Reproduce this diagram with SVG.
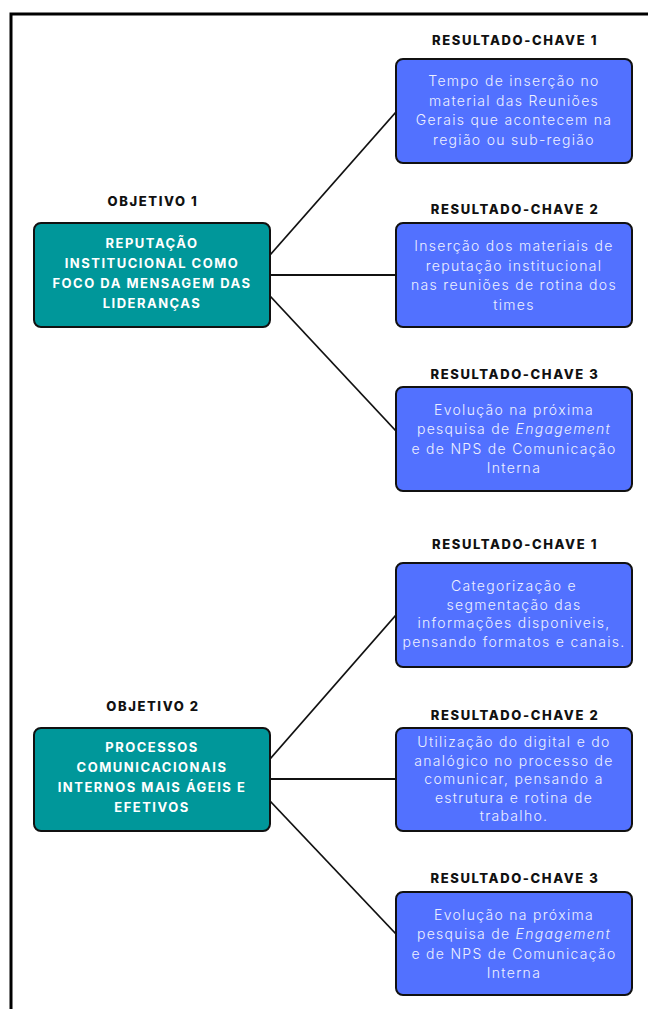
<svg xmlns="http://www.w3.org/2000/svg" width="648" height="1009" viewBox="0 0 648 1009">
<style>
.obj rect{fill:#00979A;stroke:#111;stroke-width:2}
.obj text{font-family:Inter,"Liberation Sans",sans-serif;font-weight:700;font-size:13px;letter-spacing:1.5px;fill:#fff;text-anchor:middle}
.kr rect{fill:#5271FF;stroke:#111;stroke-width:2}
.kr text{font-family:Inter,"Liberation Sans",sans-serif;font-weight:300;font-size:14px;letter-spacing:1.3px;fill:#EEF0FF;text-anchor:middle}
.obj text.lbl,.kr text.lbl{font-family:Inter,"Liberation Sans",sans-serif;font-weight:800;font-size:13px;letter-spacing:1.6px;fill:#111;text-anchor:middle}
.conn line{stroke:#111;stroke-width:1.8}
.frame{stroke:#000;stroke-width:3;fill:none}
</style>
<rect width="648" height="1009" fill="#fff"/>
<path class="frame" d="M11 1009 V14 H648"/>

<g id="connectors" class="conn">
<line x1="270" y1="255" x2="396" y2="112"/>
<line x1="270" y1="275" x2="396" y2="275"/>
<line x1="270" y1="296" x2="396" y2="431"/>
<line x1="270" y1="759" x2="396" y2="615"/>
<line x1="270" y1="779" x2="396" y2="779"/>
<line x1="270" y1="801" x2="396" y2="934"/>
</g>

<g id="objetivo1" class="obj">
<text class="lbl" x="153" y="206">OBJETIVO 1</text>
<rect x="34" y="223" width="236" height="104" rx="7"/>
<text x="152" y="248">REPUTAÇÃO</text>
<text x="152" y="268">INSTITUCIONAL COMO</text>
<text x="152" y="288">FOCO DA MENSAGEM DAS</text>
<text x="152" y="308">LIDERANÇAS</text>
</g>

<g id="kr1-1" class="kr">
<text class="lbl" x="515" y="45">RESULTADO-CHAVE 1</text>
<rect x="396" y="59" width="236" height="104" rx="7"/>
<text x="514" y="86">Tempo de inserção no</text>
<text x="514" y="105.5">material das Reuniões</text>
<text x="514" y="125">Gerais que acontecem na</text>
<text x="514" y="144.5">região ou sub-região</text>
</g>

<g id="kr1-2" class="kr">
<text class="lbl" x="515" y="214">RESULTADO-CHAVE 2</text>
<rect x="396" y="223" width="236" height="104" rx="7"/>
<text x="514" y="251">Inserção dos materiais de</text>
<text x="514" y="270.5">reputação institucional</text>
<text x="514" y="290">nas reuniões de rotina dos</text>
<text x="514" y="309.5">times</text>
</g>

<g id="kr1-3" class="kr">
<text class="lbl" x="515" y="379">RESULTADO-CHAVE 3</text>
<rect x="396" y="387" width="236" height="104" rx="7"/>
<text x="514" y="414.5">Evolução na próxima</text>
<text x="514" y="434">pesquisa de <tspan font-style="italic">Engagement</tspan></text>
<text x="514" y="453.5">e de NPS de Comunicação</text>
<text x="514" y="473">Interna</text>
</g>

<g id="objetivo2" class="obj">
<text class="lbl" x="153" y="711">OBJETIVO 2</text>
<rect x="34" y="728" width="236" height="103" rx="7"/>
<text x="152" y="752">PROCESSOS</text>
<text x="152" y="772">COMUNICACIONAIS</text>
<text x="152" y="792">INTERNOS MAIS ÁGEIS E</text>
<text x="152" y="812">EFETIVOS</text>
</g>

<g id="kr2-1" class="kr">
<text class="lbl" x="515" y="549">RESULTADO-CHAVE 1</text>
<rect x="396" y="563" width="236" height="104" rx="7"/>
<text x="514" y="591">Categorização e</text>
<text x="514" y="609.7">segmentação das</text>
<text x="514" y="628.4">informações disponiveis,</text>
<text x="514" y="647.1">pensando formatos e canais.</text>
</g>

<g id="kr2-2" class="kr">
<text class="lbl" x="515" y="720">RESULTADO-CHAVE 2</text>
<rect x="396" y="728" width="236" height="103" rx="7"/>
<text x="514" y="747">Utilização do digital e do</text>
<text x="514" y="765.6">analógico no processo de</text>
<text x="514" y="784.2">comunicar, pensando a</text>
<text x="514" y="802.8">estrutura e rotina de</text>
<text x="514" y="821.4">trabalho.</text>
</g>

<g id="kr2-3" class="kr">
<text class="lbl" x="515" y="883">RESULTADO-CHAVE 3</text>
<rect x="396" y="892" width="236" height="103" rx="7"/>
<text x="514" y="919.5">Evolução na próxima</text>
<text x="514" y="939">pesquisa de <tspan font-style="italic">Engagement</tspan></text>
<text x="514" y="958.5">e de NPS de Comunicação</text>
<text x="514" y="978">Interna</text>
</g>
</svg>
